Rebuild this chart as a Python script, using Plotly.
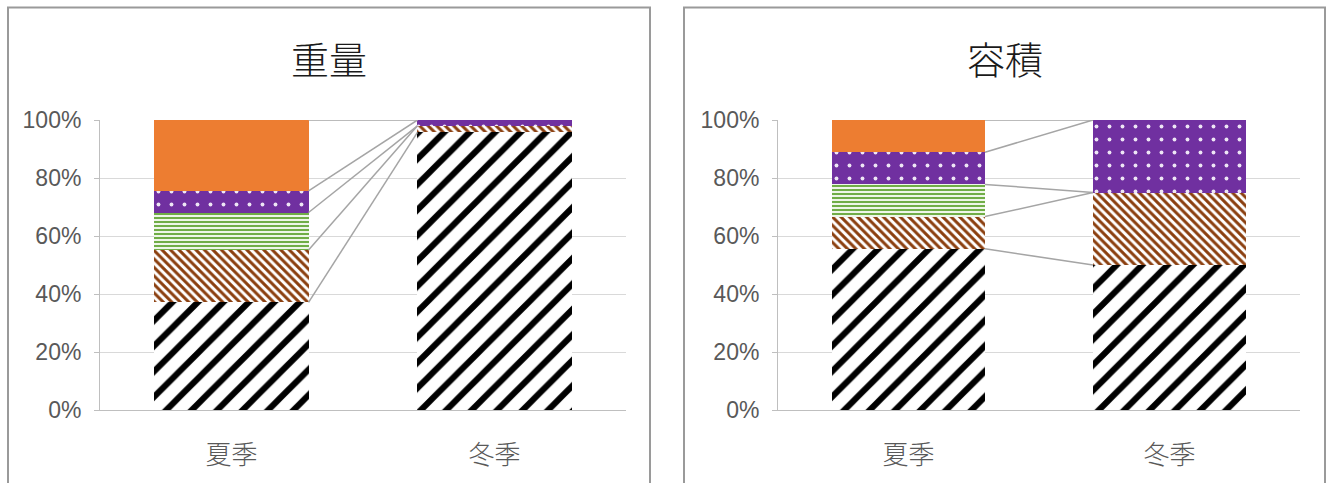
import numpy as np
import plotly.graph_objects as go

# Categories and stacked shares (percent), bottom layer first
categories = ["夏季", "冬季"]
panel_titles = ["重量", "容積"]
y_tick_values = [0, 20, 40, 60, 80, 100]
y_tick_labels = ["0%", "20%", "40%", "60%", "80%", "100%"]

# 重量 (weight)
weight_black = [37.1, 95.7]
weight_brown = [18.1, 2.3]
weight_green = [12.9, 0.0]
weight_purple = [7.5, 2.0]
weight_orange = [24.4, 0.0]

# 容積 (volume)
volume_black = [55.6, 50.0]
volume_brown = [11.1, 25.0]
volume_green = [11.1, 0.0]
volume_purple = [11.1, 25.0]
volume_orange = [11.1, 0.0]

W, H = 1330, 483
BAR_W = 0.586
X_POS = [0, 1]

FONT_LATIN = "Liberation Sans, Arial, Noto Sans CJK JP, sans-serif"
FONT_CJK = "Noto Sans CJK JP, Liberation Sans, sans-serif"
GRAY_TEXT = "#595959"

# fill styles per layer
layer_styles = [
    dict(color="#ffffff", pattern=dict(shape="/", fgcolor="#000000", bgcolor="#ffffff",
                                       size=18, solidity=0.34, fillmode="replace")),
    dict(color="#ffffff", pattern=dict(shape="\\", fgcolor="#8b3f0f", bgcolor="#ffffff",
                                       size=6, solidity=0.5, fillmode="replace")),
    dict(color="#ffffff", pattern=dict(shape="-", fgcolor="#70ad47", bgcolor="#eef6e8",
                                       size=4, solidity=0.5, fillmode="replace")),
    dict(color="#7030a0", pattern=dict(shape=".", fgcolor="#eee6f5", bgcolor="#7030a0",
                                       size=13, solidity=0.07, fillmode="replace")),
    dict(color="#ed7d31", pattern=dict(shape="")),
]

panels = [
    dict(layers=[weight_black, weight_brown, weight_green, weight_purple, weight_orange],
         xdom=[100 / W, 626 / W], xaxis="x", yaxis="y", cx=329),
    dict(layers=[volume_black, volume_brown, volume_green, volume_purple, volume_orange],
         xdom=[778 / W, 1300 / W], xaxis="x2", yaxis="y2", cx=1005),
]

ydom = [1 - 410 / H, 1 - 120 / H]

fig = go.Figure()

for p in panels:
    for vals, st in zip(p["layers"], layer_styles):
        marker = dict(color=st["color"], line=dict(width=0))
        if st["pattern"].get("shape"):
            marker["pattern"] = st["pattern"]
        fig.add_trace(go.Bar(
            x=X_POS, y=vals, width=BAR_W, marker=marker,
            xaxis=p["xaxis"], yaxis=p["yaxis"], showlegend=False, hoverinfo="skip",
        ))
    # series lines joining the top of each layer between the two stacks
    tops = np.cumsum(np.array(p["layers"]), axis=0)
    for row in tops:
        fig.add_trace(go.Scatter(
            x=[X_POS[0] + BAR_W / 2, X_POS[1] - BAR_W / 2], y=list(row),
            mode="lines", line=dict(color="#a5a5a5", width=1.5),
            xaxis=p["xaxis"], yaxis=p["yaxis"], showlegend=False,
            hoverinfo="skip", cliponaxis=False,
        ))

xaxis_common = dict(
    range=[-0.5, 1.5], tickvals=X_POS, ticktext=categories, showgrid=False,
    zeroline=False, showline=True, linecolor="#bfbfbf", linewidth=1, ticks="",
    tickfont=dict(family=FONT_CJK, size=26, color=GRAY_TEXT, weight=300),
    ticklabelstandoff=22, fixedrange=True, automargin=False,
)
yaxis_common = dict(
    range=[0, 100], tickvals=y_tick_values, ticktext=y_tick_labels, showgrid=True,
    gridcolor="#d9d9d9", gridwidth=1, zeroline=False, showline=True,
    linecolor="#bfbfbf", linewidth=1, ticks="outside", ticklen=5, tickcolor="#bfbfbf",
    tickfont=dict(family=FONT_LATIN, size=23, color=GRAY_TEXT), ticklabelstandoff=8,
    domain=ydom, fixedrange=True, automargin=False,
)

fig.update_layout(
    width=W, height=H, margin=dict(l=0, r=0, t=0, b=0, pad=0, autoexpand=False),
    paper_bgcolor="#ffffff", plot_bgcolor="#ffffff", barmode="stack", bargap=0,
    xaxis=dict(domain=panels[0]["xdom"], anchor="y", **xaxis_common),
    yaxis=dict(anchor="x", **yaxis_common),
    xaxis2=dict(domain=panels[1]["xdom"], anchor="y2", **xaxis_common),
    yaxis2=dict(anchor="x2", **yaxis_common),
    showlegend=False,
)

# panel frames
frames = [(8, 650), (684, 1325)]
for x0, x1 in frames:
    fig.add_shape(type="rect", xref="paper", yref="paper",
                  x0=x0 / W, x1=x1 / W, y0=-0.05, y1=1 - 7.5 / H,
                  line=dict(color="#9a9a9a", width=2), layer="below")

# panel titles
for p, t in zip(panels, panel_titles):
    fig.add_annotation(text=t, x=p["cx"] / W, y=1 - 57 / H, xref="paper", yref="paper",
                       showarrow=False, xanchor="center", yanchor="middle",
                       font=dict(family=FONT_CJK, size=38, color="#1a1a1a", weight=300))

fig.write_html("out.html")
